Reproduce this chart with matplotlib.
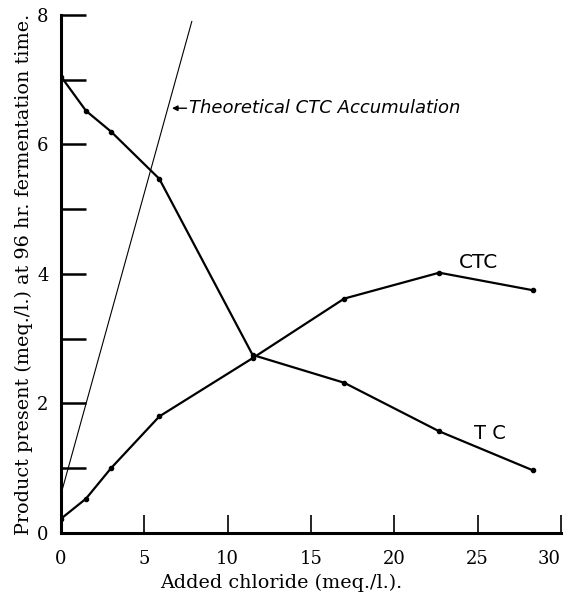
import matplotlib
matplotlib.use("Agg")
import matplotlib.pyplot as plt
import matplotlib.transforms as mtransforms

# Data
chloride = [0, 1.5, 3.0, 5.9, 11.5, 17.0, 22.7, 28.3]
ctc = [0.22, 0.53, 1.0, 1.8, 2.70, 3.62, 4.02, 3.75]
tc = [7.05, 6.52, 6.2, 5.47, 2.75, 2.32, 1.57, 0.97]
theo_x = [0, 7.85]
theo_y = [0.6, 7.9]
x_ticks = [0, 5, 10, 15, 20, 25, 30]
y_major = [0, 2, 4, 6, 8]
y_minor = [1, 3, 5, 7]

plt.rcParams['font.family'] = ['DejaVu Serif']

fig = plt.figure(figsize=(5.68, 6.0), dpi=100)
ax = fig.add_axes([0.1074, 0.1117, 0.880, 0.8633])

ax.plot(chloride, ctc, color="black", lw=1.6, marker="o", ms=3)
ax.plot(chloride, tc, color="black", lw=1.6, marker="o", ms=3)
ax.plot(theo_x, theo_y, color="black", lw=0.8)

ax.set_xlim(0, 30)
ax.set_ylim(0, 8)
for s in ["top", "right"]:
    ax.spines[s].set_visible(False)
for s in ["left", "bottom"]:
    ax.spines[s].set_linewidth(2.2)

ax.set_xticks(x_ticks, [str(v) for v in x_ticks])
ax.set_yticks(y_major, [str(v) for v in y_major])
ax.set_yticks(y_minor, minor=True)
ax.tick_params(axis="y", which="both", direction="in", length=18, width=1.8,
               labelsize=13, pad=9)
ax.tick_params(axis="x", which="major", direction="in", length=13, width=1.2,
               labelsize=13, pad=12)

last = ax.xaxis.get_major_ticks()[-1]
last.label1.set_transform(last.label1.get_transform() +
                          mtransforms.ScaledTranslation(-0.12, 0, fig.dpi_scale_trans))

ax.set_xlabel("Added chloride (meq./l.).", fontsize=13.8)
ax.xaxis.set_label_coords(0.44, -0.078)
ax.set_ylabel("Product present (meq./l.) at 96 hr. fermentation time.",
              fontsize=13.8, labelpad=3)

ax.annotate("Theoretical CTC Accumulation", xy=(6.66, 6.56), xytext=(7.7, 6.56),
            va="center", ha="left", fontsize=13, style="italic",
            family="DejaVu Sans",
            arrowprops=dict(arrowstyle="-|>", color="black", lw=1.0,
                            mutation_scale=8, shrinkA=0, shrinkB=0))
ax.text(23.9, 4.03, "CTC", fontsize=14.5, family="DejaVu Sans", ha="left", va="bottom")
ax.text(24.8, 1.39, "T C", fontsize=14, family="DejaVu Sans", ha="left", va="bottom")

fig.savefig("out.png", dpi=100)
